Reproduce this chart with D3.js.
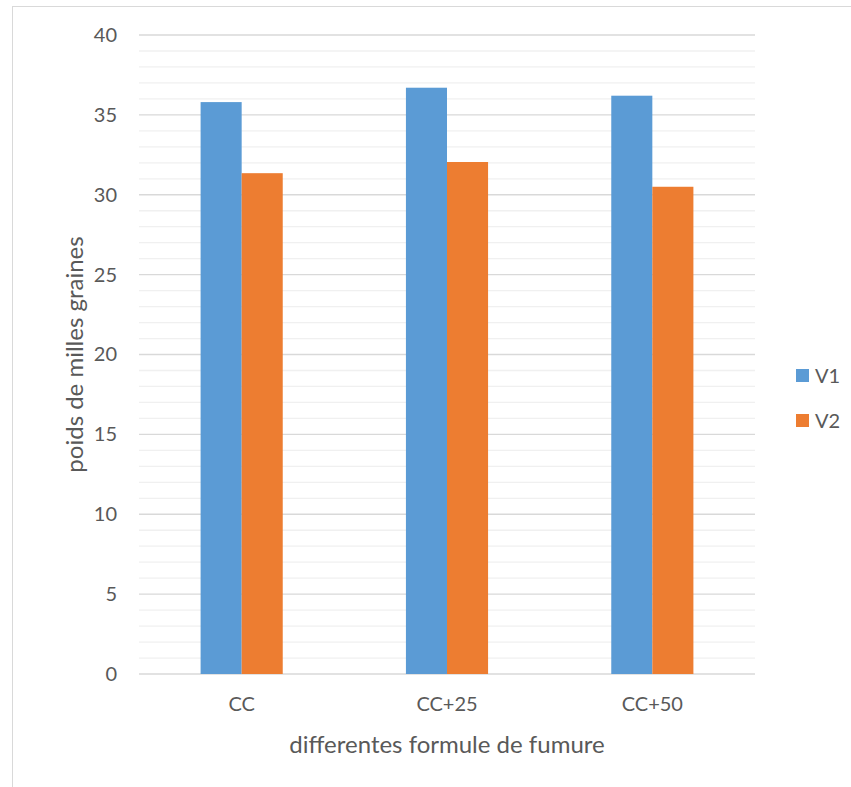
<!DOCTYPE html>
<html>
<head>
<meta charset="utf-8">
<script src="https://cdn.jsdelivr.net/npm/d3@7"></script>
<style>
  body { margin: 0; background: #fff; }
  text { font-family: Lato, "Open Sans", sans-serif; fill: #595959; }
</style>
</head>
<body>
<div id="chart"></div>
<script>
// data
const categories = ["CC", "CC+25", "CC+50"];
const seriesNames = ["V1", "V2"];
const v1 = [35.8, 36.7, 36.2];
const v2 = [31.35, 32.05, 30.5];
const yTicks = [0, 5, 10, 15, 20, 25, 30, 35, 40];
const colors = ["#5b9bd5", "#ed7d31"];

const W = 851, H = 787;
const margin = { top: 35, right: 96, bottom: 113, left: 139 };
const width = W - margin.left - margin.right;
const height = H - margin.top - margin.bottom;

const realSvg = d3.select("#chart").append("svg")
    .attr("width", W)
    .attr("height", H);

// chart frame (cut off at right/bottom like the screenshot)
realSvg.append("rect")
    .attr("x", 12.5).attr("y", 6.5)
    .attr("width", 900).attr("height", 900)
    .attr("fill", "none")
    .attr("stroke", "#d9d9d9")
    .attr("stroke-width", 1);

const svg = realSvg.append("g")
    .attr("transform", "translate(" + margin.left + "," + margin.top + ")");

const y = d3.scaleLinear().domain([0, 40]).range([height, 0]);
const x0 = d3.scaleBand().domain(categories).range([0, width]).paddingInner(0.6).paddingOuter(0.3);
const x1 = d3.scaleBand().domain(seriesNames).range([0, x0.bandwidth()]);

// minor grid
svg.selectAll(".minor")
    .data(d3.range(0, 41, 1).filter(d => d % 5 !== 0))
    .enter().append("line")
    .attr("x1", 0).attr("x2", width)
    .attr("y1", d => y(d)).attr("y2", d => y(d))
    .attr("stroke", "#f0f0f0")
    .attr("stroke-width", 1.3);

// major grid
svg.selectAll(".major")
    .data(yTicks)
    .enter().append("line")
    .attr("x1", 0).attr("x2", width)
    .attr("y1", d => y(d)).attr("y2", d => y(d))
    .attr("stroke", "#d9d9d9")
    .attr("stroke-width", 1.3);

// y axis labels
const yAxis = svg.append("g").call(d3.axisLeft(y).tickValues(yTicks).tickSize(0).tickPadding(22));
yAxis.select(".domain").remove();
yAxis.selectAll("text").style("font-size", "20px").attr("fill", "#595959")
    .style("font-family", "Lato, 'Open Sans', sans-serif");

// bars
const rows = categories.map((c, i) => ({ cat: c, vals: [v1[i], v2[i]] }));
const groups = svg.selectAll(".grp")
    .data(rows)
    .enter().append("g")
    .attr("transform", d => "translate(" + x0(d.cat) + ",0)");
groups.selectAll("rect")
    .data(d => d.vals.map((v, j) => ({ s: seriesNames[j], v: v, j: j })))
    .enter().append("rect")
    .attr("x", d => x1(d.s))
    .attr("width", x1.bandwidth())
    .attr("y", d => y(d.v))
    .attr("height", d => height - y(d.v))
    .attr("fill", d => colors[d.j]);

// x axis labels
const xAxis = svg.append("g")
    .attr("transform", "translate(0," + height + ")")
    .call(d3.axisBottom(x0).tickSize(0).tickPadding(23));
xAxis.select(".domain").remove();
xAxis.selectAll("text").style("font-size", "20px").attr("fill", "#595959")
    .style("font-family", "Lato, 'Open Sans', sans-serif");

// axis titles
svg.append("text")
    .attr("x", width / 2)
    .attr("y", height + 79)
    .attr("text-anchor", "middle")
    .style("font-size", "24px")
    .text("differentes formule de fumure");

svg.append("text")
    .attr("transform", "translate(" + (-56) + "," + (height / 2) + ") rotate(-90)")
    .attr("text-anchor", "middle")
    .style("font-size", "24px")
    .text("poids de milles graines");

// legend
const legend = realSvg.selectAll(".legend")
    .data(seriesNames)
    .enter().append("g")
    .attr("transform", (d, i) => "translate(796," + (369 + i * 45) + ")");
legend.append("rect")
    .attr("width", 13).attr("height", 13)
    .attr("fill", (d, i) => colors[i]);
legend.append("text")
    .attr("x", 19).attr("y", 7)
    .attr("dy", "0.35em")
    .style("font-size", "20px")
    .text(d => d);
</script>
</body>
</html>
